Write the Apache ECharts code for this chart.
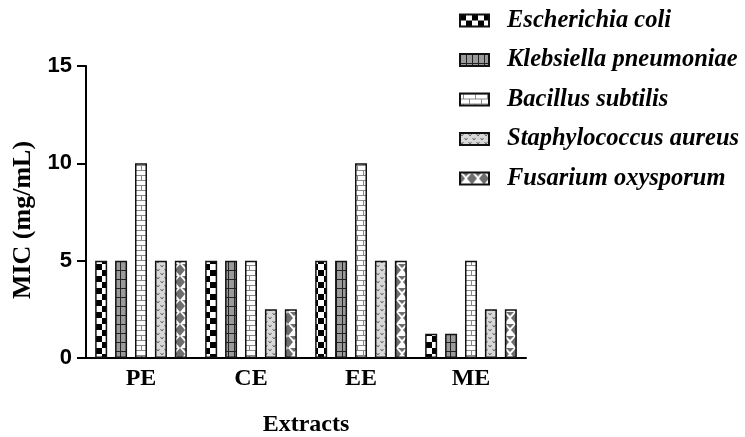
<!DOCTYPE html>
<html>
<head>
<meta charset="utf-8">
<script src="https://cdn.jsdelivr.net/npm/echarts@6/dist/echarts.min.js"></script>
<style>
  html, body { margin: 0; padding: 0; background: #fff; }
  #chart { width: 745px; height: 437px; }
</style>
</head>
<body>
<div id="chart"></div>
<script>
// Extracts tested and MIC values (mg/mL) per organism
var categories = ['PE', 'CE', 'EE', 'ME'];
var organisms = ['Escherichia coli', 'Klebsiella pneumoniae', 'Bacillus subtilis', 'Staphylococcus aureus', 'Fusarium oxysporum'];
var eColi = [5, 5, 5, 1.25];
var kPneumoniae = [5, 5, 5, 1.25];
var bSubtilis = [10, 5, 10, 5];
var sAureus = [5, 2.5, 5, 2.5];
var fOxysporum = [5, 2.5, 5, 2.5];
var yTicks = [0, 5, 10, 15];

// ---- fill patterns ----
function tile(w, h, draw) {
  var c = document.createElement('canvas');
  c.width = w; c.height = h;
  var g = c.getContext('2d');
  draw(g, w, h);
  return { image: c, repeat: 'repeat' };
}
var checker = tile(12, 12, function (g) {
  g.fillStyle = '#fff'; g.fillRect(0, 0, 12, 12);
  g.fillStyle = '#000'; g.fillRect(0, 0, 6, 6); g.fillRect(6, 6, 6, 6);
});
var grid = tile(6, 9, function (g) {
  g.fillStyle = '#9a9a9a'; g.fillRect(0, 0, 6, 9);
  g.fillStyle = '#222'; g.fillRect(0, 0, 1, 9); g.fillRect(0, 0, 6, 1);
});
var brick = tile(12, 10, function (g) {
  g.fillStyle = '#fff'; g.fillRect(0, 0, 12, 10);
  g.fillStyle = '#8a8a8a';
  g.fillRect(0, 0, 12, 1); g.fillRect(0, 5, 12, 1);
  g.fillRect(3, 0, 1, 5); g.fillRect(9, 5, 1, 5);
});
var speckle = tile(8, 8, function (g) {
  g.fillStyle = '#d8d8d8'; g.fillRect(0, 0, 8, 8);
  g.strokeStyle = '#666'; g.lineWidth = 1;
  g.beginPath();
  g.moveTo(0.5, 1); g.lineTo(2, 3); g.lineTo(3.5, 1);
  g.moveTo(4.5, 5); g.lineTo(6, 7); g.lineTo(7.5, 5);
  g.stroke();
});
var zigzag = tile(12, 12, function (g) {
  g.fillStyle = '#fff'; g.fillRect(0, 0, 12, 12);
  g.fillStyle = '#6e6e6e';
  g.beginPath(); g.moveTo(0, 0); g.lineTo(5, 6); g.lineTo(0, 12); g.closePath(); g.fill();
  g.beginPath(); g.moveTo(12, 0); g.lineTo(7, 6); g.lineTo(12, 12); g.closePath(); g.fill();
  g.beginPath(); g.moveTo(2, 0); g.lineTo(10, 0); g.lineTo(6, 4); g.closePath(); g.fill();
});

var values = [eColi, kPneumoniae, bSubtilis, sAureus, fOxysporum];
var fills = [checker, grid, brick, speckle, zigzag];

var series = organisms.map(function (name, i) {
  return {
    name: name,
    type: 'bar',
    data: values[i],
    barWidth: 12,
    barGap: '66%',
    itemStyle: { color: fills[i], borderColor: '#111', borderWidth: 1.5 },
    emphasis: { disabled: true }
  };
});

var serif = '"Liberation Serif", "Times New Roman", serif';
var chart = echarts.init(document.getElementById('chart'), null, { renderer: 'canvas' });
chart.setOption({
  animation: false,
  backgroundColor: '#fff',
  grid: { left: 86, top: 66, right: 219, bottom: 79, containLabel: false, outerBoundsMode: 'none' },
  legend: {
    orient: 'vertical',
    left: 459,
    top: 8,
    padding: 0,
    itemWidth: 29,
    itemHeight: 12,
    itemGap: 14.5,
    icon: 'rect',
    textStyle: { fontFamily: serif, fontSize: 24.5, fontStyle: 'italic', fontWeight: 'bold', color: '#000', lineHeight: 24, padding: [0, 0, 0, 13] },
    data: organisms
  },
  xAxis: {
    type: 'category',
    data: categories,
    name: 'Extracts',
    nameLocation: 'middle',
    nameGap: 55,
    nameTextStyle: { fontFamily: serif, fontSize: 24, fontWeight: 'bold', color: '#000' },
    axisLine: { lineStyle: { color: '#000', width: 2 } },
    axisTick: { alignWithLabel: true, length: 8, lineStyle: { color: '#000', width: 2 } },
    axisLabel: { fontFamily: serif, fontSize: 24, fontWeight: 'bold', color: '#000', margin: 9 }
  },
  yAxis: {
    type: 'value',
    min: yTicks[0],
    max: yTicks[yTicks.length - 1],
    interval: 5,
    name: 'MIC (mg/mL)',
    nameLocation: 'middle',
    nameGap: 45,
    nameTextStyle: { fontFamily: serif, fontSize: 26, fontWeight: 'bold', color: '#000', padding: [0, 16, 0, 0] },
    splitLine: { show: false },
    axisLine: { show: true, lineStyle: { color: '#000', width: 2 } },
    axisTick: { show: true, length: 9, lineStyle: { color: '#000', width: 2 } },
    axisLabel: { fontFamily: '"Liberation Sans", Arial, sans-serif', fontSize: 22, fontWeight: 'bold', color: '#000', margin: 14 }
  },
  series: series
});
</script>
</body>
</html>
